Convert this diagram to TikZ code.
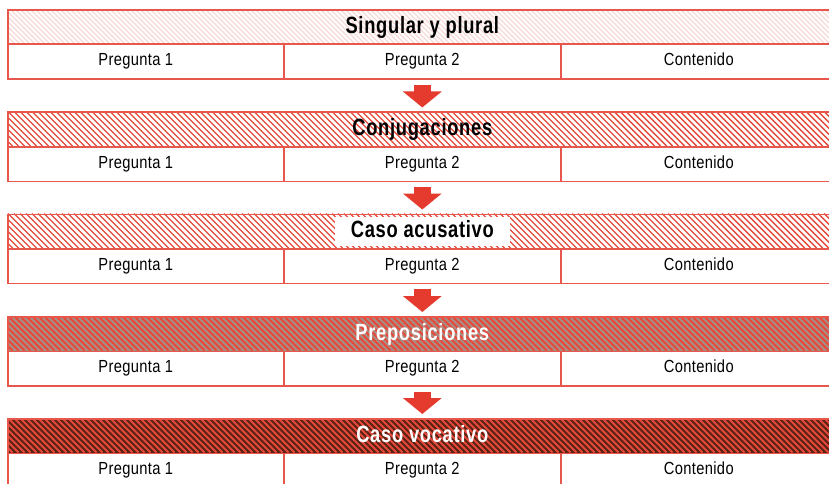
\documentclass[tikz,border=0pt]{standalone}
\usepackage{fontspec}
\setmainfont{Liberation Sans}[FakeStretch=0.84,LetterSpace=2]
\newfontfamily\hfont{Liberation Sans}[FakeStretch=0.78,LetterSpace=3]
\usetikzlibrary{arrows.meta}
\definecolor{bred}{HTML}{E8574C}
\definecolor{ared}{HTML}{E53B2E}
\definecolor{pale}{HTML}{F8D8D4}
\definecolor{greybrown}{HTML}{A88D82}
\definecolor{darkbrown}{HTML}{5B2313}
\definecolor{hred}{HTML}{E6493C}
\tikzset{
  frame/.style={draw=bred,line width=1.6pt,inner sep=0pt,minimum height=34.5pt,anchor=north west},
  cell/.style={frame,text height=12.5pt,text depth=4pt,font=\fontsize{17.5}{17.5}\selectfont},
  ttl/.style={inner xsep=16pt,inner ysep=0pt,text height=17pt,text depth=4.5pt,minimum height=29pt,font=\hfont\bfseries\fontsize{23.5}{23.5}\selectfont},
  bigarrow/.style={draw=ared,line width=17pt,-{Triangle[width=38pt,length=16pt]}}
}
% #1 idx, #2 top, #3 title, #4 bg, #5 hatch colour, #6 hatch width, #7 spacing, #8 text colour, #9 title fill
\newcommand\myblock[9]{%
  \fill[#4] (7,#2) rectangle (840,#2+34.5);
  \begin{scope}
    \clip (7,#2) rectangle (840,#2+34.5);
    \foreach \k in {0,...,180} \draw[#5,line width=#6] (-40+\k*#7,#2) -- (-5.5+\k*#7,#2+34.5);
  \end{scope}
  \node[frame,minimum width=829pt] (h#1) at (7,#2) {};
  \node[ttl,text=#8,fill=#9] (t#1) at (h#1.center) {#3};
  \node[cell,minimum width=276pt] (a#1) at (7,#2+34.5) {\hspace*{-20pt}Pregunta 1};
  \node[cell,minimum width=277pt] (b#1) at (283,#2+34.5) {Pregunta 2};
  \node[cell,minimum width=276pt] (c#1) at (560,#2+34.5) {Contenido};
}
\begin{document}
\begin{tikzpicture}[x=1pt,y=-1pt]
\useasboundingbox (0,0) rectangle (829,484);
\clip (0,0) rectangle (829,484);
\myblock{1}{9}{Singular y plural}{white}{pale}{1.1pt}{5}{black}{none}
\myblock{2}{111.5}{Conjugaciones}{white}{hred}{1.4pt}{6}{black}{none}
\myblock{3}{213.5}{Caso acusativo}{white}{hred}{1.4pt}{6}{black}{white}
\myblock{4}{316}{Preposiciones}{greybrown}{hred}{1.8pt}{6}{white}{none}
\myblock{5}{418}{Caso vocativo}{darkbrown}{hred}{1.8pt}{6}{white}{none}
\foreach \i/\j in {1/2,2/3,3/4,4/5}
  \draw[bigarrow] ([yshift=-5pt]h\i.center |- b\i.south) -- ([yshift=4pt]h\j.north);
\end{tikzpicture}
\end{document}
